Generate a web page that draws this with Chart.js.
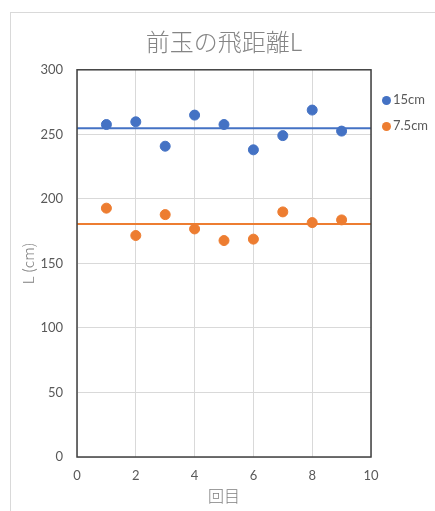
<!DOCTYPE html>
<html>
<head>
<meta charset="utf-8">
<script src="https://cdn.jsdelivr.net/npm/chart.js@4/dist/chart.umd.min.js"></script>
<style>
  html, body { margin: 0; padding: 0; background: #fff; }
  #wrap { position: relative; width: 435px; height: 511px; overflow: hidden; }
  #frame { position: absolute; left: 10px; top: 12px; width: 500px; height: 600px; border: 1px solid #d9d9d9; box-sizing: border-box; }
  #chart { position: absolute; left: 0; top: 0; }
  #legend { position: absolute; left: 382px; top: 90px; font-family: Lato, "Noto Sans", sans-serif; font-size: 13px; color: #595959; }
  .item { height: 26px; line-height: 18px; white-space: nowrap; }
  .dot { display: inline-block; width: 9px; height: 9px; border-radius: 50%; margin-right: 2px; vertical-align: -1px; }
</style>
</head>
<body>
<div id="wrap">
  <div id="frame"></div>
  <canvas id="chart" width="435" height="511"></canvas>
  <div id="legend"></div>
</div>
<script>
// 回目
const kaime = [1, 2, 3, 4, 5, 6, 7, 8, 9];
// 飛距離 L (cm)
const dist15 = [257.6, 259.7, 240.8, 264.9, 257.6, 238, 249, 268.8, 252.5];
const dist75 = [192.8, 171.6, 187.8, 176.7, 167.7, 168.8, 189.9, 181.6, 183.7];
// 平均線
const avgX = [0, 10];
const avg15 = 254.7;
const avg75 = 180.5;

const seriesNames = ["15cm", "7.5cm"];
const blue = "#4472C4";
const orange = "#ED7D31";

const pts = (xs, ys) => xs.map((x, i) => ({ x: x, y: ys[i] }));
const flat = v => avgX.map(x => ({ x: x, y: v }));

const frameBox = {
  id: "frameBox",
  afterDraw(chart) {
    const a = chart.chartArea;
    const ctx = chart.ctx;
    ctx.save();
    ctx.strokeStyle = "#404040";
    ctx.lineWidth = 1.5;
    ctx.strokeRect(a.left, a.top, a.right - a.left, a.bottom - a.top);
    ctx.restore();
  }
};

const tickFont = { family: "Lato, 'Noto Sans', sans-serif", size: 13 };
const jpFont = "'Noto Sans CJK JP', sans-serif";

new Chart(document.getElementById("chart"), {
  type: "scatter",
  data: {
    datasets: [
      { label: seriesNames[0], data: pts(kaime, dist15), backgroundColor: blue, borderColor: blue, pointRadius: 5, pointHoverRadius: 5, order: 1 },
      { label: seriesNames[1], data: pts(kaime, dist75), backgroundColor: orange, borderColor: orange, pointRadius: 5, pointHoverRadius: 5, order: 1 },
      { type: "line", label: "avg15", data: flat(avg15), borderColor: blue, borderWidth: 2, pointRadius: 0, fill: false, order: 2 },
      { type: "line", label: "avg75", data: flat(avg75), borderColor: orange, borderWidth: 2, pointRadius: 0, fill: false, order: 2 }
    ]
  },
  options: {
    responsive: false,
    animation: false,
    layout: { padding: { left: 0, top: 0, right: 64, bottom: 0 } },
    plugins: {
      legend: { display: false },
      tooltip: { enabled: false },
      title: {
        display: true,
        text: "前玉の飛距離L",
        fullSize: false,
        color: "#858585",
        font: { family: jpFont, size: 24, weight: 300 },
        padding: { top: 27, bottom: 14 }
      }
    },
    scales: {
      x: {
        type: "linear",
        min: 0, max: 10,
        ticks: { stepSize: 2, color: "#595959", font: tickFont, padding: 11 },
        grid: { color: "#d9d9d9", drawTicks: false },
        border: { display: false },
        title: { display: true, text: "回目", color: "#808080", font: { family: jpFont, size: 16, weight: 300 }, padding: { top: 0, bottom: 5 } },
        afterFit(s) { s.height = 54; }
      },
      y: {
        min: 0, max: 300,
        ticks: { stepSize: 50, color: "#595959", font: tickFont, padding: 14 },
        grid: { color: "#d9d9d9", drawTicks: false },
        border: { display: false },
        title: { display: true, text: "L (cm)", color: "#808080", font: { family: jpFont, size: 15, weight: 300 }, padding: { top: 19, bottom: 0 } },
        afterFit(s) { s.width = 77; }
      }
    }
  },
  plugins: [frameBox]
});

// 凡例
const legend = document.getElementById("legend");
[[seriesNames[0], blue], [seriesNames[1], orange]].forEach(([name, col]) => {
  const div = document.createElement("div");
  div.className = "item";
  div.innerHTML = `<span class="dot" style="background:${col}"></span>${name}`;
  legend.appendChild(div);
});
</script>
</body>
</html>
